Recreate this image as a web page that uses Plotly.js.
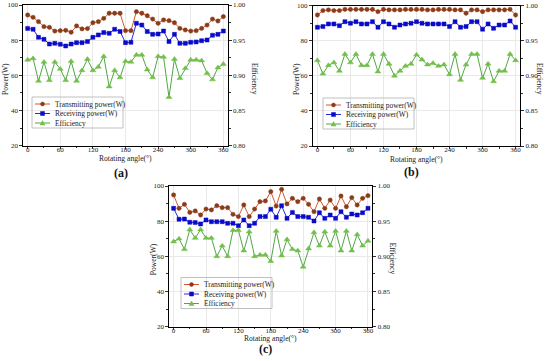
<!DOCTYPE html>
<html>
<head>
<meta charset="utf-8">
<script src="https://cdn.plot.ly/plotly-3.0.1.min.js"></script>
<style>html,body{margin:0;padding:0;background:#fff;}#chart{width:550px;height:361px;}</style>
</head>
<body>
<div id="chart"></div>
<script>
// ---- Data ----
const angles = [0,10,20,30,40,50,60,70,80,90,100,110,120,130,140,150,160,170,180,190,200,210,220,230,240,250,260,270,280,290,300,310,320,330,340,350,360];
const seriesNames = ["Transmitting power(W)", "Receiving power(W)", "Efficiency"];
const panelLabels = ["(a)", "(b)", "(c)"];
const xTickVals = [0,60,120,180,240,300,360];
const powerTicks = [20,40,60,80,100];
const effTicks = [0.80,0.85,0.90,0.95,1.00];

const transA = [94.3,93.0,90.5,87.7,87.3,85.2,85.4,85.6,84.5,88.1,86.4,86.6,89.9,90.5,92.4,95.3,95.3,95.3,85.4,85.4,96.2,95.3,93.9,92.0,89.6,91.5,91.1,89.9,86.7,85.8,85.2,85.4,86.7,88.6,92.0,90.9,93.4];
const recvA  = [86.7,86.2,81.6,80.5,77.8,78.2,77.7,76.7,77.8,78.6,78.6,79.2,81.6,83.0,84.3,83.9,86.2,84.9,78.6,78.8,89.6,88.6,84.9,83.3,83.5,85.2,79.2,83.3,78.2,78.2,78.8,79.0,79.7,80.1,82.8,83.3,85.2];
const effA   = [0.922,0.924,0.892,0.919,0.893,0.919,0.909,0.893,0.920,0.892,0.907,0.923,0.907,0.912,0.927,0.884,0.907,0.897,0.920,0.919,0.929,0.929,0.908,0.897,0.927,0.926,0.869,0.923,0.896,0.910,0.922,0.922,0.921,0.903,0.894,0.911,0.916];

const transB = [94.7,97.2,97.6,97.2,97.2,97.9,97.9,97.9,97.9,97.9,97.9,96.6,97.9,97.6,97.6,97.6,97.9,97.9,97.9,97.9,97.6,97.6,97.9,97.9,97.9,97.6,97.6,95.7,97.6,97.6,96.6,97.6,97.6,97.6,97.6,97.9,94.7];
const recvB  = [87.7,88.1,89.6,89.6,88.6,90.9,90.0,90.9,89.6,89.6,90.9,87.7,90.9,89.6,87.7,89.0,89.6,90.0,90.9,90.0,89.6,89.6,89.6,89.6,88.1,90.9,87.7,88.1,90.9,90.9,86.6,89.6,87.1,89.0,89.0,91.3,87.7];
const effB   = [0.922,0.903,0.915,0.919,0.907,0.931,0.919,0.931,0.915,0.915,0.931,0.906,0.931,0.917,0.900,0.907,0.914,0.917,0.930,0.923,0.916,0.918,0.914,0.916,0.902,0.931,0.894,0.916,0.931,0.931,0.897,0.917,0.892,0.907,0.907,0.931,0.922];

const transC = [94.9,87.3,89.6,85.0,85.8,83.5,86.9,86.4,88.8,87.7,87.7,83.9,82.6,89.2,82.6,86.9,91.1,91.5,96.8,88.6,98.1,89.8,93.0,91.1,93.0,89.6,85.4,92.6,87.3,92.0,87.3,94.3,88.2,93.4,89.2,93.0,94.5];
const recvC  = [87.3,81.1,81.2,79.4,79.2,78.4,80.7,79.7,79.7,79.7,78.8,78.8,77.4,80.7,77.4,78.8,82.6,82.6,86.8,82.2,88.8,81.6,85.0,82.6,82.6,82.2,80.1,84.8,81.6,83.5,81.6,85.4,82.2,84.1,83.5,84.8,87.3];
const effC   = [0.921,0.925,0.910,0.938,0.926,0.938,0.926,0.926,0.900,0.915,0.900,0.937,0.937,0.908,0.935,0.900,0.902,0.902,0.893,0.936,0.901,0.924,0.910,0.908,0.885,0.911,0.934,0.915,0.935,0.915,0.936,0.908,0.936,0.908,0.931,0.915,0.922];

const panels = [
  {t: transA, r: recvA, e: effA},
  {t: transB, r: recvB, e: effB},
  {t: transC, r: recvC, e: effC}
];

// ---- Styles ----
const FONT = '"Liberation Serif", "Times New Roman", serif';
const W = 550, H = 361;
const px = x => x / W;
const py = y => 1 - y / H;
const styles = [
  {line: '#d4572f', marker: '#8a3b18', symbol: 'circle', size: 4.3},
  {line: '#2a2ad8', marker: '#0a0ac8', symbol: 'square', size: 4.0},
  {line: '#4fa843', marker: '#72bf4a', symbol: 'triangle-up', size: 5.2}
];
// panel frames in pixels: [left, right, top, bottom]
const frames = [
  [23.3, 227.7, 5, 145.7],
  [313, 520, 5.7, 146],
  [169.3, 372.3, 186, 326.7]
];

const traces = [];
const layout = {
  width: W, height: H,
  margin: {l: 0, r: 0, t: 0, b: 0},
  paper_bgcolor: '#ffffff', plot_bgcolor: '#ffffff',
  showlegend: false,
  font: {family: FONT, size: 7, color: '#222'},
  shapes: [], annotations: []
};

panels.forEach((p, i) => {
  const n = i + 1;
  const xid = n === 1 ? 'x' : 'x' + n;
  const yL = 2 * n - 1, yR = 2 * n;
  const yLid = yL === 1 ? 'y' : 'y' + yL;
  const yRid = 'y' + yR;
  const f = frames[i];
  const xDom = [px(f[0]), px(f[1])];
  const yDom = [py(f[3]), py(f[2])];
  const xKey = n === 1 ? 'xaxis' : 'xaxis' + n;
  const yLKey = yL === 1 ? 'yaxis' : 'yaxis' + yL;
  const yRKey = 'yaxis' + yR;
  const common = {
    showline: true, linecolor: '#000', linewidth: 1,
    ticks: 'outside', ticklen: 3, tickwidth: 0.8, tickcolor: '#000',
    tickfont: {family: FONT, size: 7, color: '#222'},
    zeroline: false, fixedrange: true
  };
  layout[xKey] = Object.assign({}, common, {
    domain: xDom, anchor: yLid, range: [-8, 368],
    tickmode: 'array', tickvals: xTickVals, ticktext: xTickVals.map(String),
    ticklen: 2, ticklabelstandoff: -5,
    mirror: true, showgrid: true, gridcolor: '#e4e4e4', gridwidth: 0.8,
    minor: {tickvals: [30,90,150,210,270,330], ticks: 'outside', ticklen: 1.5, tickcolor: '#000', showgrid: false}
  });
  layout[yLKey] = Object.assign({}, common, {
    domain: yDom, anchor: xid, range: [20, 100],
    tickmode: 'array', tickvals: powerTicks, ticktext: powerTicks.map(String),
    showgrid: true, gridcolor: '#e4e4e4', gridwidth: 0.8,
    minor: {tickvals: [30,50,70,90], ticks: 'outside', ticklen: 2, tickcolor: '#000', showgrid: false}
  });
  layout[yRKey] = Object.assign({}, common, {
    overlaying: yLid, anchor: xid, side: 'right', range: [0.80, 1.00],
    tickmode: 'array', tickvals: effTicks, ticktext: effTicks.map(v => v.toFixed(2)),
    showgrid: false,
    minor: {tickvals: [0.825,0.875,0.925,0.975], ticks: 'outside', ticklen: 2, tickcolor: '#000', showgrid: false}
  });

  const ys = [p.t, p.r, p.e];
  ys.forEach((yv, k) => {
    const s = styles[k];
    traces.push({
      type: 'scatter', mode: 'lines+markers', name: seriesNames[k],
      x: angles, y: yv, xaxis: xid, yaxis: k === 2 ? yRid : yLid,
      line: {color: s.line, width: 1},
      marker: {symbol: s.symbol, size: s.size, color: s.marker, line: {width: 0.5, color: s.marker}},
      hoverinfo: 'skip'
    });
  });

  // axis titles and panel label
  const cx = (f[0] + f[1]) / 2;
  const titleOffsets = [
    {left: 5, right: 255, xt: 158.5, lab: 173, ymid: 79},
    {left: 296, right: 540, xt: 159, lab: 172, ymid: 79},
    {left: 153.3, right: 393.3, xt: 338.5, lab: 349, ymid: 259}
  ][i];
  layout.annotations.push(
    {xref: 'paper', yref: 'paper', x: px(cx), y: py(titleOffsets.xt), text: 'Rotating angle(°)', showarrow: false,
     xanchor: 'center', yanchor: 'middle', font: {family: FONT, size: 7.6, color: '#222'}},
    {xref: 'paper', yref: 'paper', x: px(titleOffsets.left), y: py(titleOffsets.ymid), text: 'Power(W)', showarrow: false,
     textangle: -90, xanchor: 'center', yanchor: 'middle', font: {family: FONT, size: 7.6, color: '#222'}},
    {xref: 'paper', yref: 'paper', x: px(titleOffsets.right), y: py(titleOffsets.ymid), text: 'Efficiency', showarrow: false,
     textangle: 90, xanchor: 'center', yanchor: 'middle', font: {family: FONT, size: 7.6, color: '#222'}},
    {xref: 'paper', yref: 'paper', x: px(cx - 5), y: py(titleOffsets.lab), text: '<b>' + panelLabels[i] + '</b>', showarrow: false,
     xanchor: 'center', yanchor: 'middle', font: {family: FONT, size: 12, color: '#111'}}
  );

  // custom compact legend (box, sample line, marker, text)
  const leg = [[32, 97], [323, 98], [181, 277.5]][i];
  const L = leg[0], T = leg[1];
  layout.shapes.push({type: 'rect', xref: 'paper', yref: 'paper', x0: px(L), x1: px(L + 91), y0: py(T), y1: py(T + 31),
    line: {color: '#b0b0b0', width: 0.8}, fillcolor: 'rgba(255,255,255,0)'});
  seriesNames.forEach((nm, k) => {
    const s = styles[k];
    const cy = T + 7 + k * 9.5;
    const mx = L + 10.5;
    layout.shapes.push({type: 'line', xref: 'paper', yref: 'paper', x0: px(L + 3), x1: px(L + 18), y0: py(cy), y1: py(cy),
      line: {color: s.line, width: 1}});
    if (k === 0) {
      layout.shapes.push({type: 'circle', xref: 'paper', yref: 'paper', x0: px(mx - 2), x1: px(mx + 2), y0: py(cy - 2), y1: py(cy + 2),
        line: {color: s.marker, width: 0.5}, fillcolor: s.marker});
    } else if (k === 1) {
      layout.shapes.push({type: 'rect', xref: 'paper', yref: 'paper', x0: px(mx - 2), x1: px(mx + 2), y0: py(cy - 2), y1: py(cy + 2),
        line: {color: s.marker, width: 0.5}, fillcolor: s.marker});
    } else {
      const path = 'M' + px(mx - 2.5) + ',' + py(cy + 2) + ' L' + px(mx + 2.5) + ',' + py(cy + 2) + ' L' + px(mx) + ',' + py(cy - 2.5) + ' Z';
      layout.shapes.push({type: 'path', xref: 'paper', yref: 'paper', path: path,
        line: {color: s.marker, width: 0.5}, fillcolor: s.marker});
    }
    layout.annotations.push({xref: 'paper', yref: 'paper', x: px(L + 21), y: py(cy), text: nm, showarrow: false,
      xanchor: 'left', yanchor: 'middle', font: {family: FONT, size: 7.4, color: '#222'}});
  });
});

Plotly.newPlot('chart', traces, layout, {staticPlot: true, displayModeBar: false});
</script>
</body>
</html>
